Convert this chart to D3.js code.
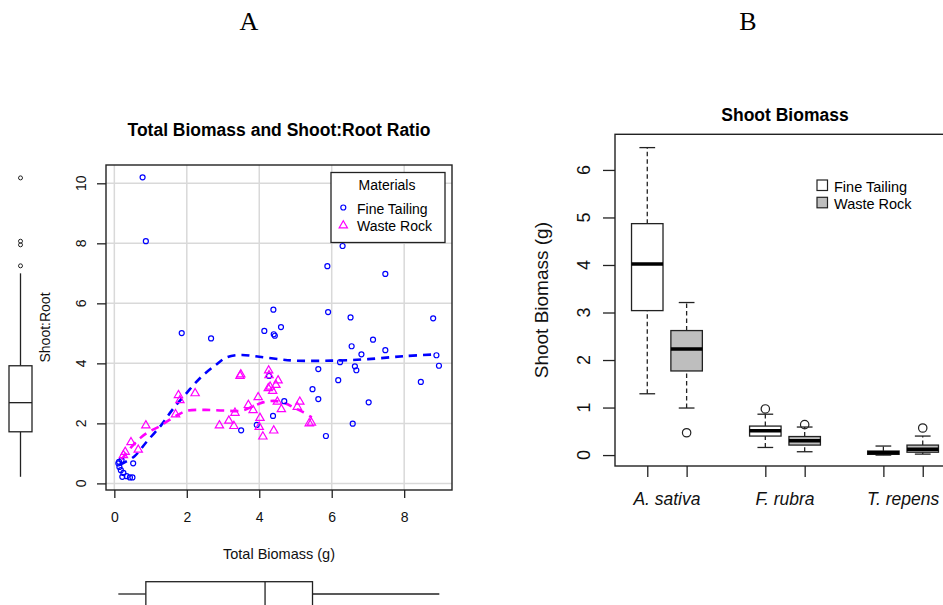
<!DOCTYPE html>
<html><head><meta charset="utf-8">
<script src="https://cdn.jsdelivr.net/npm/d3@7"></script>
<style>
html,body{margin:0;padding:0;background:#fff;}
svg{display:block;font-family:"Liberation Sans",Arial,sans-serif;}
</style></head>
<body>
<svg id="chart" width="943" height="605"></svg>
<script>
// ---------- DATA ----------
const panelLabels = ["A", "B"];
const materials = ["Fine Tailing", "Waste Rock"];

// Panel A: scatter points [Total Biomass, Shoot:Root]
const finePoints = [
  [0.78,10.2],[0.87,8.07],[4.39,5.79],[4.6,5.21],[4.14,5.08],[6.3,7.91],[5.88,7.24],[7.48,6.98],
  [5.9,5.71],[6.52,5.53],[8.8,5.5],[1.86,5.01],[2.67,4.83],[4.4,4.97],[4.43,4.92],
  [4.27,3.58],[4.69,2.74],[4.38,2.25],[3.5,1.77],[3.93,1.95],
  [6.55,4.57],[7.14,4.79],[6.82,4.3],[7.48,4.44],[8.89,4.27],[8.96,3.92],[6.23,4.04],[6.64,3.9],
  [6.68,3.77],[5.63,3.81],[6.18,3.44],[5.47,3.14],[5.63,2.81],[7.02,2.7],[8.46,3.38],[6.58,1.99],[5.84,1.58],
  [0.11,0.67],[0.14,0.55],[0.18,0.44],[0.22,0.22],[0.34,0.24],[0.43,0.2],[0.5,0.2],[0.25,0.35],
  [0.2,0.78],[0.52,0.67],[0.13,0.72]
];
const wastePoints = [
  [0.25,0.94],[0.3,1.05],[0.46,1.37],[0.66,1.12],[0.87,1.93],[1.69,2.3],[1.77,2.94],[1.81,2.77],
  [2.23,3.0],[3.47,3.58],[3.49,3.63],[2.9,1.93],[3.16,2.09],[3.3,1.91],[3.33,2.35],[3.7,2.61],
  [3.83,2.44],[3.97,2.87],[4.02,2.18],[4.0,1.88],[4.1,1.56],[4.26,3.76],[4.25,3.17],[4.3,3.22],
  [4.37,3.08],[4.46,3.28],[4.52,3.43],[4.4,1.76],[4.5,2.72],[4.61,2.47],[5.05,2.55],[5.12,2.72],
  [5.38,2.0],[5.44,2.02],[4.27,3.6]
];
// smoothed trend lines
const fineTrend = [
  [0.15,0.62],[0.55,0.9],[0.9,1.4],[1.3,1.95],[1.6,2.45],[2.0,3.02],[2.4,3.55],[2.8,3.95],
  [3.1,4.2],[3.5,4.28],[4.0,4.22],[4.6,4.13],[5.0,4.09],[6.0,4.09],[7.0,4.14],[8.0,4.24],[8.9,4.3]
];
const wasteTrend = [
  [0.2,0.8],[0.5,1.25],[0.75,1.55],[1.0,1.75],[1.25,1.9],[1.5,2.1],[1.75,2.28],[2.0,2.42],
  [2.5,2.45],[3.0,2.43],[3.5,2.42],[3.8,2.55],[4.1,2.7],[4.4,2.75],[4.7,2.68],[5.0,2.5],[5.2,2.38],[5.45,2.2]
];
// marginal boxplots: [lower whisker, Q1, median, Q3, upper whisker]
const ratioStats = [0.22, 1.72, 2.69, 3.92, 7.0];
const ratioOutliers = [7.25, 7.95, 8.07, 10.18];
const biomassStats = [0.11, 0.87, 4.16, 5.47, 8.97];
const xTicksA = [0, 2, 4, 6, 8];
const yTicksA = [0, 2, 4, 6, 8, 10];

// Panel B
const species = ["A. sativa", "F. rubra", "T. repens"];
const shootFine  = [[1.29,3.04,4.02,4.87,6.47],[0.16,0.40,0.51,0.61,0.86],[0.0,0.015,0.05,0.085,0.19]];
const shootWaste = [[0.99,1.77,2.23,2.62,3.21],[0.07,0.21,0.30,0.39,0.59],[0.02,0.06,0.12,0.21,0.40]];
const shootFineOut  = [[], [0.97], []];
const shootWasteOut = [[0.47], [0.64], [0.57]];
const boxPositions = [1, 2, 4, 5, 7, 8];
const yTicksB = [0, 1, 2, 3, 4, 5, 6];
const fillColors = ["#FFFFFF", "#BEBEBE"];
const pointColors = ["#0000FF", "#FF00FF"];

// ---------- DRAW ----------
const svg = d3.select("#chart");
const FONT = '"Liberation Sans",Arial,sans-serif';
const INK = "#222";

// panel labels
svg.append("text").attr("x", 249).attr("y", 30).attr("text-anchor", "middle")
  .style("font-family", '"Liberation Serif","Times New Roman",serif').style("font-size", "26px").text(panelLabels[0]);
svg.append("text").attr("x", 748).attr("y", 30).attr("text-anchor", "middle")
  .style("font-family", '"Liberation Serif","Times New Roman",serif').style("font-size", "26px").text(panelLabels[1]);

// ===== Panel A =====
const xA = d3.scaleLinear().domain([-0.23, 9.32]).range([106, 452]);
const yA = d3.scaleLinear().domain([-0.22, 10.61]).range([490, 165]);
const gA = svg.append("g");

// grid
gA.selectAll("line.gx").data(xTicksA).join("line")
  .attr("x1", d => xA(d)).attr("x2", d => xA(d)).attr("y1", 165).attr("y2", 490)
  .attr("stroke", "#d9d9d9").attr("stroke-width", 1.5);
gA.selectAll("line.gy").data(yTicksA).join("line")
  .attr("x1", 106).attr("x2", 452).attr("y1", d => yA(d)).attr("y2", d => yA(d))
  .attr("stroke", "#d9d9d9").attr("stroke-width", 1.5);

// trend lines
const lineA = d3.line().x(d => xA(d[0])).y(d => yA(d[1])).curve(d3.curveCatmullRom);
gA.append("path").datum(fineTrend).attr("d", lineA).attr("fill", "none")
  .attr("stroke", pointColors[0]).attr("stroke-width", 2.6).attr("stroke-dasharray", "8,6");
gA.append("path").datum(wasteTrend).attr("d", lineA).attr("fill", "none")
  .attr("stroke", pointColors[1]).attr("stroke-width", 2.6).attr("stroke-dasharray", "8,6");

// points
gA.selectAll("circle.fp").data(finePoints).join("circle")
  .attr("cx", d => xA(d[0])).attr("cy", d => yA(d[1])).attr("r", 2.5)
  .attr("fill", "none").attr("stroke", pointColors[0]).attr("stroke-width", 1.2);
const tri = d3.symbol().type(d3.symbolTriangle).size(30);
gA.selectAll("path.wp").data(wastePoints).join("path")
  .attr("d", tri).attr("transform", d => `translate(${xA(d[0])},${yA(d[1])})`)
  .attr("fill", "none").attr("stroke", pointColors[1]).attr("stroke-width", 1.2);

// frame
gA.append("rect").attr("x", 106).attr("y", 165).attr("width", 346).attr("height", 325)
  .attr("fill", "none").attr("stroke", INK).attr("stroke-width", 1.4);

// x axis
const axA = gA.append("g").attr("transform", "translate(0,490)")
  .call(d3.axisBottom(xA).tickValues(xTicksA).tickSize(8).tickPadding(14));
axA.select(".domain").remove();
axA.selectAll("line").attr("stroke", INK).attr("stroke-width", 1.3);
axA.selectAll("text").style("font-size", "14px").style("font-family", FONT).attr("fill", "#111");

// y axis
const ayA = gA.append("g").attr("transform", "translate(106,0)")
  .call(d3.axisLeft(yA).tickValues(yTicksA).tickSize(9).tickFormat(""));
ayA.select(".domain").remove();
ayA.selectAll("line").attr("stroke", INK).attr("stroke-width", 1.3);
gA.selectAll("text.ylA").data(yTicksA).join("text")
  .attr("transform", d => `translate(86,${yA(d)}) rotate(-90)`)
  .attr("text-anchor", "middle").style("font-size", "14px").attr("fill", "#111").text(d => d);

// titles
gA.append("text").attr("x", 279).attr("y", 136).attr("text-anchor", "middle")
  .style("font-size", "17.5px").style("font-weight", "bold").text("Total Biomass and Shoot:Root Ratio");
gA.append("text").attr("x", 279).attr("y", 559).attr("text-anchor", "middle")
  .style("font-size", "14.5px").attr("fill", "#111").text("Total Biomass (g)");
gA.append("text").attr("transform", `translate(50,${(165 + 490) / 2}) rotate(-90)`).attr("text-anchor", "middle")
  .style("font-size", "14px").attr("fill", "#111").text("Shoot:Root");

// legend A
const lgA = gA.append("g");
lgA.append("rect").attr("x", 331).attr("y", 172.5).attr("width", 114).attr("height", 70)
  .attr("fill", "#fff").attr("stroke", INK).attr("stroke-width", 1.3);
lgA.append("text").attr("x", 387).attr("y", 190).attr("text-anchor", "middle")
  .style("font-size", "14px").text("Materials");
lgA.append("circle").attr("cx", 343.3).attr("cy", 207.5).attr("r", 2.5)
  .attr("fill", "none").attr("stroke", pointColors[0]).attr("stroke-width", 1.2);
lgA.append("path").attr("d", tri).attr("transform", "translate(343.3,225.5)")
  .attr("fill", "none").attr("stroke", pointColors[1]).attr("stroke-width", 1.2);
lgA.append("text").attr("x", 357).attr("y", 213.5).style("font-size", "14px").text(materials[0]);
lgA.append("text").attr("x", 357).attr("y", 231).style("font-size", "14px").text(materials[1]);

// left marginal boxplot (Shoot:Root)
const lb = svg.append("g");
const lbL = 9, lbR = 32, lbC = 20.5;
lb.append("line").attr("x1", lbC).attr("x2", lbC).attr("y1", yA(ratioStats[0])).attr("y2", yA(ratioStats[1])).attr("stroke", INK).attr("stroke-width", 1.3);
lb.append("line").attr("x1", lbC).attr("x2", lbC).attr("y1", yA(ratioStats[3])).attr("y2", yA(ratioStats[4])).attr("stroke", INK).attr("stroke-width", 1.3);
lb.append("rect").attr("x", lbL).attr("width", lbR - lbL).attr("y", yA(ratioStats[3]))
  .attr("height", yA(ratioStats[1]) - yA(ratioStats[3])).attr("fill", "#fff").attr("stroke", INK).attr("stroke-width", 1.3);
lb.append("line").attr("x1", lbL).attr("x2", lbR).attr("y1", yA(ratioStats[2])).attr("y2", yA(ratioStats[2])).attr("stroke", INK).attr("stroke-width", 1.3);
lb.selectAll("circle").data(ratioOutliers).join("circle").attr("cx", lbC).attr("cy", d => yA(d)).attr("r", 2)
  .attr("fill", "none").attr("stroke", INK).attr("stroke-width", 1);

// bottom marginal boxplot (Total Biomass)
const bb = svg.append("g");
const bbC = 594, bbT = 581.7, bbB = 606.3;
bb.append("line").attr("y1", bbC).attr("y2", bbC).attr("x1", xA(biomassStats[0])).attr("x2", xA(biomassStats[1])).attr("stroke", INK).attr("stroke-width", 1.3);
bb.append("line").attr("y1", bbC).attr("y2", bbC).attr("x1", xA(biomassStats[3])).attr("x2", xA(biomassStats[4])).attr("stroke", INK).attr("stroke-width", 1.3);
bb.append("rect").attr("y", bbT).attr("height", bbB - bbT).attr("x", xA(biomassStats[1]))
  .attr("width", xA(biomassStats[3]) - xA(biomassStats[1])).attr("fill", "#fff").attr("stroke", INK).attr("stroke-width", 1.3);
bb.append("line").attr("y1", bbT).attr("y2", bbB).attr("x1", xA(biomassStats[2])).attr("x2", xA(biomassStats[2])).attr("stroke", INK).attr("stroke-width", 1.3);

// ===== Panel B =====
const xB = d3.scaleLinear().domain([0.18, 8.82]).range([615, 955]);
const yB = d3.scaleLinear().domain([-0.23, 6.75]).range([466, 134.3]);
const gB = svg.append("g");
const unit = xB(1) - xB(0);
const boxW = 0.8 * unit, capW = 0.4 * unit;

const boxes = [];
species.forEach((s, i) => {
  boxes.push({ pos: boxPositions[2 * i], st: shootFine[i], out: shootFineOut[i], fill: fillColors[0] });
  boxes.push({ pos: boxPositions[2 * i + 1], st: shootWaste[i], out: shootWasteOut[i], fill: fillColors[1] });
});
boxes.forEach(b => {
  const cx = xB(b.pos);
  const g = gB.append("g");
  // whiskers
  g.append("line").attr("x1", cx).attr("x2", cx).attr("y1", yB(b.st[0])).attr("y2", yB(b.st[1]))
    .attr("stroke", INK).attr("stroke-width", 1.3).attr("stroke-dasharray", "4.5,3");
  g.append("line").attr("x1", cx).attr("x2", cx).attr("y1", yB(b.st[3])).attr("y2", yB(b.st[4]))
    .attr("stroke", INK).attr("stroke-width", 1.3).attr("stroke-dasharray", "4.5,3");
  g.append("line").attr("x1", cx - capW / 2).attr("x2", cx + capW / 2).attr("y1", yB(b.st[0])).attr("y2", yB(b.st[0]))
    .attr("stroke", INK).attr("stroke-width", 1.3);
  g.append("line").attr("x1", cx - capW / 2).attr("x2", cx + capW / 2).attr("y1", yB(b.st[4])).attr("y2", yB(b.st[4]))
    .attr("stroke", INK).attr("stroke-width", 1.3);
  g.append("rect").attr("x", cx - boxW / 2).attr("width", boxW).attr("y", yB(b.st[3]))
    .attr("height", Math.max(0.5, yB(b.st[1]) - yB(b.st[3]))).attr("fill", b.fill).attr("stroke", INK).attr("stroke-width", 1.3);
  g.append("line").attr("x1", cx - boxW / 2).attr("x2", cx + boxW / 2).attr("y1", yB(b.st[2])).attr("y2", yB(b.st[2]))
    .attr("stroke", "#000").attr("stroke-width", 3.5);
  g.selectAll("circle").data(b.out).join("circle").attr("cx", cx).attr("cy", d => yB(d)).attr("r", 4.2)
    .attr("fill", "none").attr("stroke", INK).attr("stroke-width", 1.2);
});

// frame B
gB.append("rect").attr("x", 615).attr("y", 134.3).attr("width", 340).attr("height", 331.7)
  .attr("fill", "none").attr("stroke", INK).attr("stroke-width", 1.4);

// y axis B
const ayB = gB.append("g").attr("transform", "translate(615,0)")
  .call(d3.axisLeft(yB).tickValues(yTicksB).tickSize(12).tickFormat(""));
ayB.select(".domain").remove();
ayB.selectAll("line").attr("stroke", INK).attr("stroke-width", 1.3);
gB.selectAll("text.ylB").data(yTicksB).join("text")
  .attr("transform", d => `translate(590,${yB(d)}) rotate(-90)`)
  .attr("text-anchor", "middle").style("font-size", "18px").attr("fill", "#111").text(d => d);

// x axis B
const axB = gB.append("g").attr("transform", "translate(0,466)")
  .call(d3.axisBottom(xB).tickValues(boxPositions).tickSize(11).tickFormat(""));
axB.select(".domain").remove();
axB.selectAll("line").attr("stroke", INK).attr("stroke-width", 1.3);
gB.selectAll("text.cat").data(species).join("text")
  .attr("x", (d, i) => (xB(boxPositions[2 * i]) + xB(boxPositions[2 * i + 1])) / 2)
  .attr("y", 505).attr("text-anchor", "middle").style("font-size", "17.5px").style("font-style", "italic")
  .attr("fill", "#111").text(d => d);

// titles B
gB.append("text").attr("x", 785).attr("y", 121).attr("text-anchor", "middle")
  .style("font-size", "17.5px").style("font-weight", "bold").text("Shoot Biomass");
gB.append("text").attr("transform", `translate(548,${(134.3 + 466) / 2}) rotate(-90)`).attr("text-anchor", "middle")
  .style("font-size", "19px").attr("fill", "#111").text("Shoot Biomass (g)");

// legend B
materials.forEach((m, i) => {
  gB.append("rect").attr("x", 817).attr("y", 180 + i * 17.3).attr("width", 10.5).attr("height", 10.5)
    .attr("fill", fillColors[i]).attr("stroke", INK).attr("stroke-width", 1.2);
  gB.append("text").attr("x", 834).attr("y", 192 + i * 17.3).style("font-size", "14.5px").text(m);
});
</script>
</body></html>
